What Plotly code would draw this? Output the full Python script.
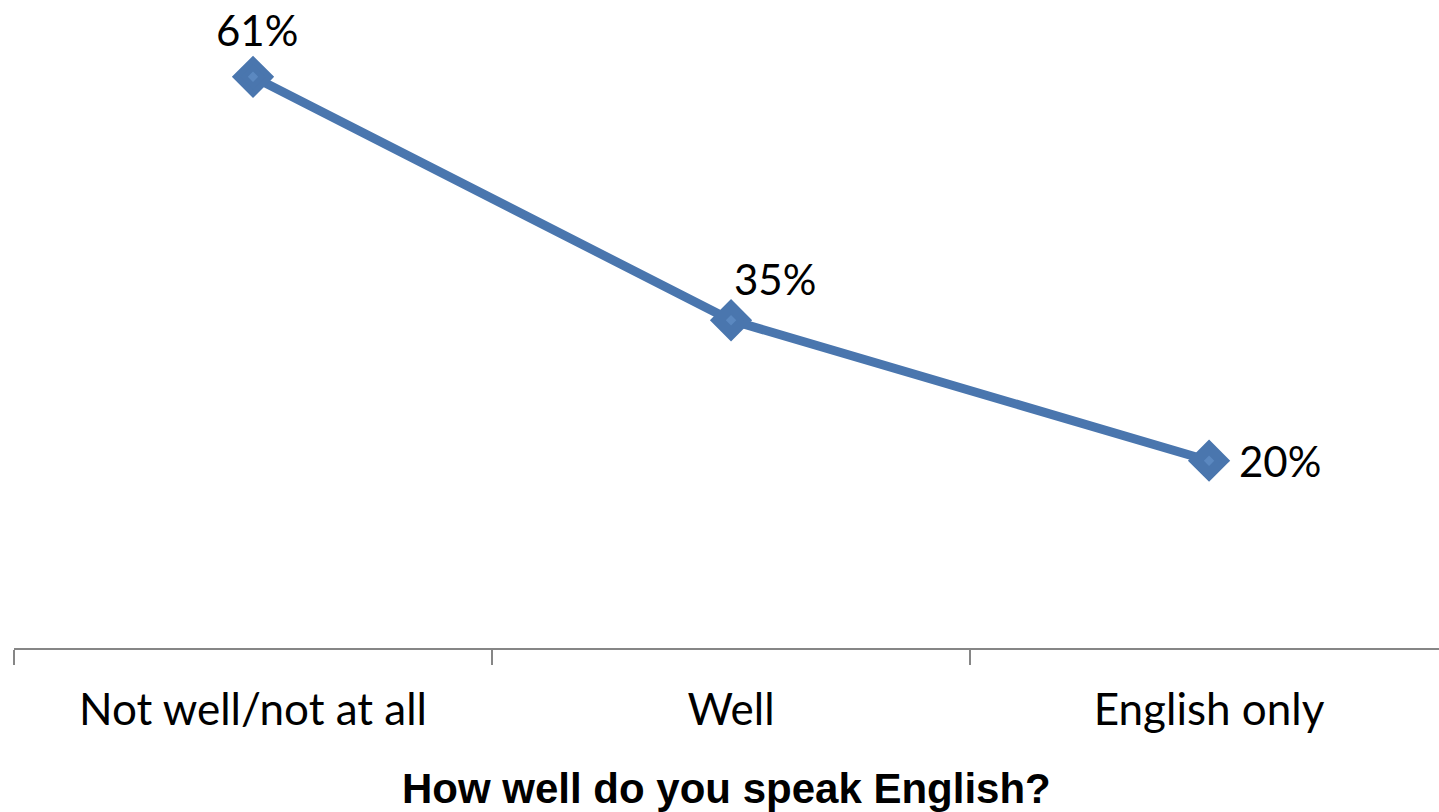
import plotly.graph_objects as go

categories = ["Not well/not at all", "Well", "English only"]
shares = [61, 35, 20]
label_text = ["61%", "35%", "20%"]
# pixel offsets of each value label relative to its point
label_dx = [4, 44, 71]
label_dy = [47, 41, 0]

LINE_BLUE = "#4A76AE"
INNER_BLUE = "#5B88C0"
LABEL_FONT = "Lato"

fig = go.Figure()
fig.add_trace(go.Scatter(
    x=categories, y=shares, mode="lines+markers",
    line=dict(color=LINE_BLUE, width=9),
    marker=dict(symbol="diamond", size=26, color=LINE_BLUE,
                line=dict(color=LINE_BLUE, width=6)),
    hoverinfo="skip", showlegend=False,
))
fig.add_trace(go.Scatter(
    x=categories, y=shares, mode="markers",
    marker=dict(symbol="diamond", size=8, color=INNER_BLUE, line=dict(width=0)),
    hoverinfo="skip", showlegend=False,
))

for c, v, t, dx, dy in zip(categories, shares, label_text, label_dx, label_dy):
    fig.add_annotation(x=c, y=v, text=t, showarrow=False, xshift=dx, yshift=dy,
                       font=dict(family=LABEL_FONT, size=42, color="#000000"))

fig.add_annotation(x=0.5, y=0, xref="paper", yref="paper", text="<b>How well do you speak English?</b>",
                   showarrow=False, yanchor="middle", yshift=-140,
                   font=dict(family="Liberation Sans", size=42, color="#000000"))

fig.update_layout(
    width=1439, height=812,
    margin=dict(l=14, r=0, t=0, b=164),
    paper_bgcolor="white", plot_bgcolor="white",
    xaxis=dict(
        type="category", range=[-0.5, 2.481],
        showline=True, linecolor="#868686", linewidth=2,
        ticks="outside", tickson="boundaries", ticklen=15, tickwidth=2, tickcolor="#868686",
        ticklabelstandoff=22,
        showgrid=False, zeroline=False,
        tickfont=dict(family=LABEL_FONT, size=44, color="#000000"),
    ),
    yaxis=dict(range=[0, 69.2], visible=False, showgrid=False, zeroline=False),
)

fig.write_html("out.html")
